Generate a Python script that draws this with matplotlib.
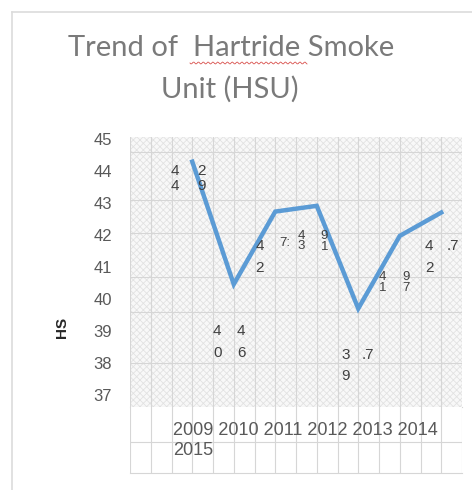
import numpy as np
import matplotlib.pyplot as plt
from matplotlib.patches import Rectangle
from matplotlib.lines import Line2D

years = ["2009", "2010", "2011", "2012", "2013", "2014", "2015"]
hsu = [44.29, 40.46, 42.73, 42.91, 39.7, 41.97, 42.7]
y_ticks = [37, 38, 39, 40, 41, 42, 43, 44, 45]

# scattered (garbled) data label pieces as they show in the picture: (x index, value, text)
label_bits = [
    (-0.41, 44.0, "4"), (0.22, 44.0, "2"), (-0.41, 43.53, "4"), (0.22, 43.53, "9"),
    (0.6, 39.0, "4"), (1.18, 39.0, "4"), (0.6, 38.3, "0"), (1.18, 38.3, "6"),
    (1.62, 41.67, "4"), (1.62, 40.97, "2"),
    (2.22, 41.76, "7:"), (2.62, 41.97, "4"), (2.62, 41.64, "3"),
    (3.18, 41.97, "9"), (3.18, 41.62, "1"),
    (4.58, 40.68, "4"), (4.58, 40.33, "1"), (5.16, 40.68, "9"), (5.16, 40.33, "7"),
    (5.71, 41.67, "4"), (5.71, 40.97, "2"), (6.27, 41.67, ".7"),
    (3.69, 38.25, "3"), (4.22, 38.25, ".7"), (3.69, 37.6, "9"),
]
small_bits = {10, 11, 12, 13, 14, 15, 16, 17, 18}

plt.rcParams['hatch.linewidth'] = 0.6
W, H = 472, 490
fig = plt.figure(figsize=(W / 100, H / 100), dpi=100)
fig.patch.set_facecolor('white')


def fx(px):
    return px / W


def fy(py):
    return 1 - py / H


# outer frame (only top and left visible)
fig.add_artist(Line2D([fx(12), fx(12)], [fy(12), 0], color='#dcdcdc', lw=1.2))
fig.add_artist(Line2D([fx(12), 1], [fy(12), fy(12)], color='#dcdcdc', lw=1.2))

# title
fig.text(fx(231), fy(48), "Trend of  Hartride Smoke", ha='center', va='center',
         fontsize=21, color='#7a7a7a', family='Lato')
fig.text(fx(230), fy(89), "Unit (HSU)", ha='center', va='center',
         fontsize=21, color='#7a7a7a', family='Lato')
# spell-check squiggle under "Hartride"
sx = np.linspace(190, 307, 120)
sy = 63 + 1.0 * np.sin((sx - 190) * 1.3)
fig.add_artist(Line2D(fx(sx), fy(sy), color='#d9534f', lw=0.6))

x = np.arange(len(years))

# main plot area
ax = fig.add_axes([fx(130), fy(407), fx(462) - fx(130), fy(137) - fy(407)])
ax.set_xlim(-1.5, 6.5)
ax.set_ylim(36.625, 45.06)
ax.add_patch(Rectangle((0, 0), 1, 1, transform=ax.transAxes, facecolor='#f8f8f8',
                       edgecolor='#e2e2e2', hatch='xxxxx', lw=0, zorder=0))
for xv in np.arange(-1.5, 6.51, 0.5):
    ax.axvline(xv, color='#d6d6d6', lw=0.8, zorder=1)
for yv in [44.59, 43.09, 42.06, 40.69, 39.59, 38.0]:
    ax.axhline(yv, color='#d6d6d6', lw=0.8, zorder=1)

ax.plot(x, hsu, color='#5b9bd5', lw=3.2, solid_joinstyle='miter', zorder=3)

for i, (bx, by, t) in enumerate(label_bits):
    ax.text(bx, by, t, ha='center', va='center',
            fontsize=9.5 if i in small_bits else 11, color='#404040',
            family='Liberation Sans', zorder=4)

ax.set_yticks(y_ticks)
ax.set_yticklabels([str(v) for v in y_ticks], fontsize=12, color='#595959',
                   family='Liberation Sans')
ax.set_xticks([])
ax.tick_params(axis='y', length=0, pad=13)
for s in ax.spines.values():
    s.set_visible(False)
ax.spines['bottom'].set_visible(True)
ax.spines['bottom'].set_color('#d6d6d6')

fig.text(fx(62), fy(327), "HS", rotation=90, ha='center', va='center',
         fontsize=11, fontweight='bold', color='#262626', family='Liberation Sans')

# category table under the plot
tb = fig.add_axes([fx(130), fy(473), fx(462) - fx(130), fy(407) - fy(473)])
tb.set_xlim(-1.5, 6.5)
tb.set_ylim(0, 1)
for xv in np.arange(-1.5, 6.51, 0.5):
    tb.axvline(xv, color='#d6d6d6', lw=0.8)
tb.axhline(1 - 35 / 66, color='#d6d6d6', lw=0.8)
tb.set_xticks([])
tb.set_yticks([])
for s in tb.spines.values():
    s.set_visible(False)
tb.spines['bottom'].set_visible(True)
tb.spines['bottom'].set_color('#d6d6d6')
tb.text(-0.47, 1 - 23 / 66, " ".join(years[:-1]), ha='left', va='center',
        fontsize=13, color='#595959', family='Liberation Sans')
tb.text(-0.47, 1 - 43 / 66, years[-1], ha='left', va='center',
        fontsize=13, color='#595959', family='Liberation Sans')

fig.savefig("out.png", dpi=100, facecolor='white')
